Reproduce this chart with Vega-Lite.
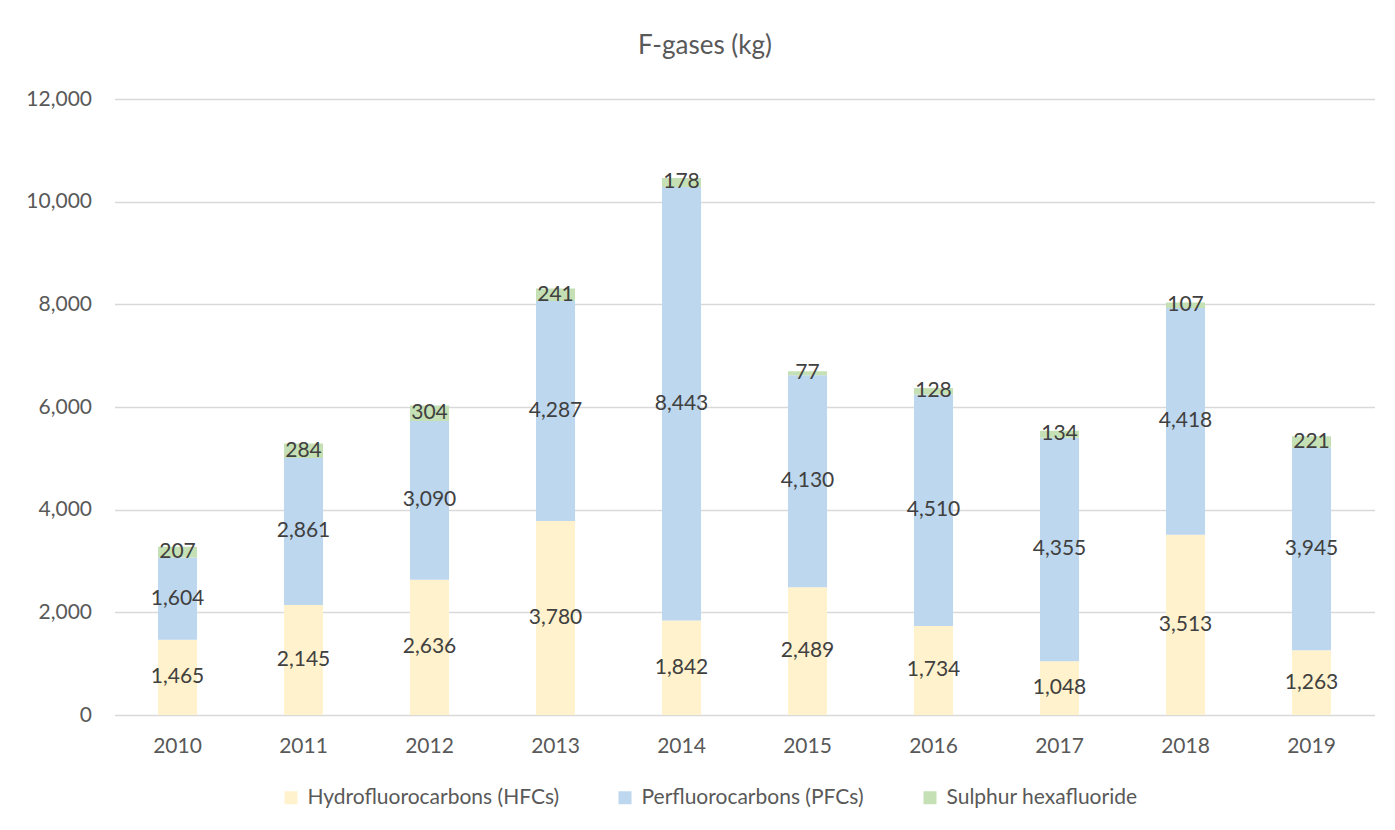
{
  "$schema": "https://vega.github.io/schema/vega-lite/v6.json",
  "width": 1260,
  "height": 616,
  "autosize": {"type": "none"},
  "padding": {"left": 114.5, "top": 99, "right": 20.5, "bottom": 115},
  "background": "white",
  "title": {
    "text": "F-gases (kg)",
    "font": "Lato",
    "fontSize": 26,
    "fontWeight": "normal",
    "color": "#595959",
    "anchor": "middle",
    "baseline": "alphabetic",
    "offset": 8,
    "dx": -39.5
  },
  "config": {
    "view": {"stroke": null},
    "font": "Lato"
  },
  "data": {
    "values": [
      {"year": "2010", "gas": "Hydrofluorocarbons (HFCs)", "value": 1465},
      {"year": "2010", "gas": "Perfluorocarbons (PFCs)", "value": 1604},
      {"year": "2010", "gas": "Sulphur hexafluoride", "value": 207},
      {"year": "2011", "gas": "Hydrofluorocarbons (HFCs)", "value": 2145},
      {"year": "2011", "gas": "Perfluorocarbons (PFCs)", "value": 2861},
      {"year": "2011", "gas": "Sulphur hexafluoride", "value": 284},
      {"year": "2012", "gas": "Hydrofluorocarbons (HFCs)", "value": 2636},
      {"year": "2012", "gas": "Perfluorocarbons (PFCs)", "value": 3090},
      {"year": "2012", "gas": "Sulphur hexafluoride", "value": 304},
      {"year": "2013", "gas": "Hydrofluorocarbons (HFCs)", "value": 3780},
      {"year": "2013", "gas": "Perfluorocarbons (PFCs)", "value": 4287},
      {"year": "2013", "gas": "Sulphur hexafluoride", "value": 241},
      {"year": "2014", "gas": "Hydrofluorocarbons (HFCs)", "value": 1842},
      {"year": "2014", "gas": "Perfluorocarbons (PFCs)", "value": 8443},
      {"year": "2014", "gas": "Sulphur hexafluoride", "value": 178},
      {"year": "2015", "gas": "Hydrofluorocarbons (HFCs)", "value": 2489},
      {"year": "2015", "gas": "Perfluorocarbons (PFCs)", "value": 4130},
      {"year": "2015", "gas": "Sulphur hexafluoride", "value": 77},
      {"year": "2016", "gas": "Hydrofluorocarbons (HFCs)", "value": 1734},
      {"year": "2016", "gas": "Perfluorocarbons (PFCs)", "value": 4510},
      {"year": "2016", "gas": "Sulphur hexafluoride", "value": 128},
      {"year": "2017", "gas": "Hydrofluorocarbons (HFCs)", "value": 1048},
      {"year": "2017", "gas": "Perfluorocarbons (PFCs)", "value": 4355},
      {"year": "2017", "gas": "Sulphur hexafluoride", "value": 134},
      {"year": "2018", "gas": "Hydrofluorocarbons (HFCs)", "value": 3513},
      {"year": "2018", "gas": "Perfluorocarbons (PFCs)", "value": 4418},
      {"year": "2018", "gas": "Sulphur hexafluoride", "value": 107},
      {"year": "2019", "gas": "Hydrofluorocarbons (HFCs)", "value": 1263},
      {"year": "2019", "gas": "Perfluorocarbons (PFCs)", "value": 3945},
      {"year": "2019", "gas": "Sulphur hexafluoride", "value": 221}
    ]
  },
  "transform": [
    {"stack": "value", "groupby": ["year"], "sort": [{"field": "gas", "order": "ascending"}], "as": ["v0", "v1"]},
    {"calculate": "(datum.v0 + datum.v1) / 2", "as": "vmid"}
  ],
  "encoding": {
    "x": {
      "field": "year",
      "type": "ordinal",
      "title": null,
      "scale": {"paddingInner": 0.69, "paddingOuter": 0.345},
      "axis": {
        "domain": false,
        "ticks": false,
        "labelAngle": 0,
        "labelPadding": 20,
        "labelFont": "Lato",
        "labelFontSize": 21,
        "labelColor": "#595959"
      }
    }
  },
  "layer": [
    {
      "mark": {"type": "bar"},
      "encoding": {
        "y": {
          "field": "v0",
          "type": "quantitative",
          "title": null,
          "scale": {"domain": [0, 12000], "nice": false},
          "axis": {
            "values": [0, 2000, 4000, 6000, 8000, 10000, 12000],
            "format": ",d",
            "domain": false,
            "ticks": false,
            "labelPadding": 23,
            "labelFont": "Lato",
            "labelFontSize": 21,
            "labelColor": "#595959",
            "gridColor": "#D9D9D9",
            "gridWidth": 1.3
          }
        },
        "y2": {"field": "v1"},
        "color": {
          "field": "gas",
          "type": "nominal",
          "scale": {
            "domain": ["Hydrofluorocarbons (HFCs)", "Perfluorocarbons (PFCs)", "Sulphur hexafluoride"],
            "range": ["#FFF2CC", "#BDD7EE", "#C5E0B4"]
          },
          "legend": {
            "title": null,
            "orient": "none",
            "direction": "horizontal",
            "legendX": 166,
            "legendY": 688,
            "symbolType": "square",
            "symbolSize": 169,
            "symbolStrokeWidth": 0,
            "labelOffset": 6,
            "columnPadding": 55,
            "labelFont": "Lato",
            "labelFontSize": 21,
            "labelColor": "#595959",
            "labelLimit": 400
          }
        }
      }
    },
    {
      "mark": {"type": "text", "font": "Lato", "fontSize": 21, "color": "#404040", "baseline": "middle", "align": "center"},
      "encoding": {
        "y": {"field": "vmid", "type": "quantitative"},
        "text": {"field": "value", "type": "quantitative", "format": ",d"}
      }
    }
  ]
}
